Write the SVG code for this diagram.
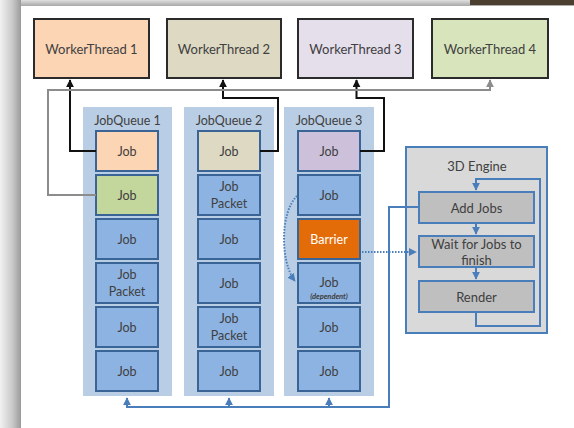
<svg xmlns="http://www.w3.org/2000/svg" width="574" height="428" viewBox="0 0 574 428">
<defs>
<linearGradient id="lsh" x1="0" y1="0" x2="1" y2="0">
<stop offset="0" stop-color="#f2f2f2"/><stop offset="0.6" stop-color="#c8c8c8"/><stop offset="1" stop-color="#9a9a9a"/>
</linearGradient>
<linearGradient id="tsh" x1="0" y1="0" x2="0" y2="1">
<stop offset="0" stop-color="#e0e0e0"/><stop offset="1" stop-color="#a8a8a8"/>
</linearGradient>
<marker id="ab" viewBox="0 0 10 10" refX="9" refY="5" markerWidth="4" markerHeight="4" orient="auto" markerUnits="strokeWidth"><path d="M0,0 L10,5 L0,10 z" fill="#111"/></marker>
<marker id="ag" viewBox="0 0 10 10" refX="9" refY="5" markerWidth="4" markerHeight="4" orient="auto" markerUnits="strokeWidth"><path d="M0,0 L10,5 L0,10 z" fill="#8c8c8c"/></marker>
<marker id="abl" viewBox="0 0 10 10" refX="9" refY="5" markerWidth="4" markerHeight="4" orient="auto" markerUnits="strokeWidth"><path d="M0,0 L10,5 L0,10 z" fill="#4a7ebb"/></marker>
<style>
text{font-family:Lato,"Liberation Sans",sans-serif;fill:#404040;text-anchor:middle;dominant-baseline:central}
.wt{stroke:#2b2b2b;stroke-width:2}
.wtt{font-size:13px}
.q{fill:#b9cde5}
.qt{font-size:12.5px}
.j{stroke:#3a6496;stroke-width:2}
.jb{fill:#8db3e2}
.jt{font-size:12.5px}
.eng{fill:#d9d9d9;stroke:#4a7ebb;stroke-width:2}
.eb{fill:#bfbfbf;stroke:#4a7ebb;stroke-width:2}
.et{font-size:13px}
.cb{fill:none;stroke:#111;stroke-width:2}
.cg{fill:none;stroke:#8c8c8c;stroke-width:2}
.cbl{fill:none;stroke:#4a7ebb;stroke-width:2}
.dot{fill:none;stroke:#4a7ebb;stroke-width:2;stroke-dasharray:1.5 1.5}
</style>
</defs>
<rect x="0" y="0" width="574" height="428" fill="#ffffff"/>
<rect x="0" y="0" width="574" height="6" fill="url(#tsh)"/>
<rect x="470" y="0" width="104" height="5" fill="#4b4030"/>
<rect x="0" y="0" width="21" height="428" fill="url(#lsh)"/>

<g id="queue1">
<rect class="q" x="83" y="107" width="89" height="289"/>
<text class="qt" x="127.5" y="120">JobQueue 1</text>
</g>
<g id="queue2">
<rect class="q" x="184" y="107" width="90" height="289"/>
<text class="qt" x="229" y="120">JobQueue 2</text>
</g>
<g id="queue3">
<rect class="q" x="284" y="107" width="90" height="289"/>
<text class="qt" x="329" y="120">JobQueue 3</text>
</g>

<g id="wt1"><rect class="wt" x="34" y="19" width="115" height="59" fill="#fcd5b4"/><text class="wtt" x="91.5" y="48.5">WorkerThread 1</text></g>
<g id="wt2"><rect class="wt" x="167" y="19" width="114" height="59" fill="#ddd9c3"/><text class="wtt" x="224" y="48.5">WorkerThread 2</text></g>
<g id="wt3"><rect class="wt" x="298" y="19" width="115" height="59" fill="#e5dfec"/><text class="wtt" x="355.5" y="48.5">WorkerThread 3</text></g>
<g id="wt4"><rect class="wt" x="432" y="19" width="116" height="59" fill="#d7e4bc"/><text class="wtt" x="490" y="48.5">WorkerThread 4</text></g>

<g id="q1j1"><rect class="j" x="96" y="131" width="62" height="40" fill="#fcd5b4"/><text class="jt" x="127" y="151">Job</text></g>
<g id="q1j2"><rect class="j" x="96" y="175" width="62" height="40" fill="#c3d69b"/><text class="jt" x="127" y="195">Job</text></g>
<g id="q1j3"><rect class="j jb" x="96" y="219" width="62" height="40"/><text class="jt" x="127" y="239">Job</text></g>
<g id="q1j4"><rect class="j jb" x="96" y="263" width="62" height="40"/><text class="jt" x="127" y="274.5">Job</text><text class="jt" x="127" y="291">Packet</text></g>
<g id="q1j5"><rect class="j jb" x="96" y="307" width="62" height="40"/><text class="jt" x="127" y="327">Job</text></g>
<g id="q1j6"><rect class="j jb" x="96" y="351" width="62" height="40"/><text class="jt" x="127" y="371">Job</text></g>

<g id="q2j1"><rect class="j" x="198" y="131" width="62" height="40" fill="#ddd9c3"/><text class="jt" x="229" y="151">Job</text></g>
<g id="q2j2"><rect class="j jb" x="198" y="175" width="62" height="40"/><text class="jt" x="229" y="186.5">Job</text><text class="jt" x="229" y="203">Packet</text></g>
<g id="q2j3"><rect class="j jb" x="198" y="219" width="62" height="40"/><text class="jt" x="229" y="239">Job</text></g>
<g id="q2j4"><rect class="j jb" x="198" y="263" width="62" height="40"/><text class="jt" x="229" y="283">Job</text></g>
<g id="q2j5"><rect class="j jb" x="198" y="307" width="62" height="40"/><text class="jt" x="229" y="318.5">Job</text><text class="jt" x="229" y="335">Packet</text></g>
<g id="q2j6"><rect class="j jb" x="198" y="351" width="62" height="40"/><text class="jt" x="229" y="371">Job</text></g>

<g id="q3j1"><rect class="j" x="298" y="131" width="62" height="40" fill="#ccc0da"/><text class="jt" x="329" y="151">Job</text></g>
<g id="q3j2"><rect class="j jb" x="298" y="175" width="62" height="40"/><text class="jt" x="329" y="195">Job</text></g>
<g id="q3j3"><rect class="j" x="298" y="219" width="62" height="40" fill="#e36c09"/><text class="jt" x="329" y="239" style="fill:#ffffff">Barrier</text></g>
<g id="q3j4"><rect class="j jb" x="298" y="263" width="62" height="40"/><text class="jt" x="329" y="282">Job</text><text x="329" y="296" style="font-size:7.5px;font-style:italic;font-weight:bold">(dependent)</text></g>
<g id="q3j5"><rect class="j jb" x="298" y="307" width="62" height="40"/><text class="jt" x="329" y="327">Job</text></g>
<g id="q3j6"><rect class="j jb" x="298" y="351" width="62" height="40"/><text class="jt" x="329" y="371">Job</text></g>

<g id="engine">
<rect class="eng" x="406" y="147" width="141" height="186"/>
<text class="et" x="477" y="166">3D Engine</text>
</g>
<g id="addjobs"><rect class="eb" x="419" y="192" width="115" height="31"/><text class="et" x="476.5" y="207.5">Add Jobs</text></g>
<g id="wait"><rect class="eb" x="419" y="236" width="115" height="31"/><text class="et" x="476.5" y="244">Wait for Jobs to</text><text class="et" x="476.5" y="259.5">finish</text></g>
<g id="render"><rect class="eb" x="419" y="281" width="115" height="31"/><text class="et" x="476.5" y="296.5">Render</text></g>

<g id="connectors">
<path class="cb" d="M96,151 H70 V80" marker-end="url(#ab)"/>
<path class="cb" d="M260,151 H278 V98 H223 V80" marker-end="url(#ab)"/>
<path class="cb" d="M360,151 H384 V98 H356.5 V80" marker-end="url(#ab)"/>
<path class="cg" d="M96,195 H48 V90 H490 V80" marker-end="url(#ag)"/>
<path class="cbl" d="M419,207 H389 V407 H127 V398" marker-end="url(#abl)"/>
<path class="cbl" d="M229,407 V398" marker-end="url(#abl)"/>
<path class="cbl" d="M329,407 V398" marker-end="url(#abl)"/>
<path class="cbl" d="M476,223 V234" marker-end="url(#abl)"/>
<path class="cbl" d="M476,267 V279" marker-end="url(#abl)"/>
<path class="cbl" d="M476,312 V326 H540 V179 H476 V190" marker-end="url(#abl)"/>
<path class="dot" d="M362,252 H416" marker-end="url(#abl)"/>
<path class="dot" d="M297,196 C280,212 280,262 295,281" marker-end="url(#abl)"/>
</g>
</svg>
